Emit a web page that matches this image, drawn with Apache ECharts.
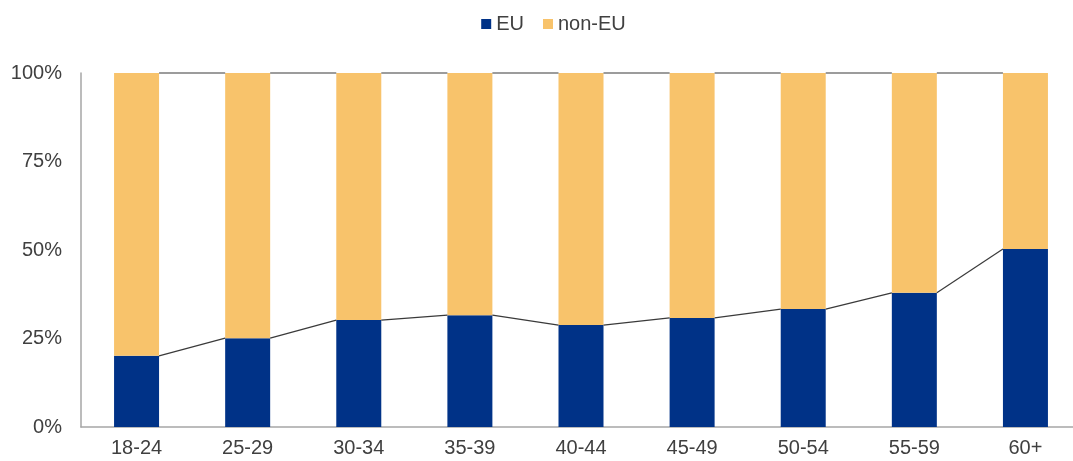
<!DOCTYPE html>
<html>
<head>
<meta charset="utf-8">
<script src="https://cdn.jsdelivr.net/npm/echarts@6/dist/echarts.min.js"></script>
<style>
  html, body { margin: 0; padding: 0; background: #fff; overflow: hidden; }
  /* the original plot area runs past the right edge of the picture */
  #chart { width: 1107px; height: 461px; }
</style>
</head>
<body>
<div id="chart"></div>
<script>
const ageGroups = ['18-24', '25-29', '30-34', '35-39', '40-44', '45-49', '50-54', '55-59', '60+']
const euShare = [20.1, 25.1, 30.2, 31.6, 28.8, 30.8, 33.3, 37.9, 50.3]
const nonEuShare = [79.9, 74.9, 69.8, 68.4, 71.2, 69.2, 66.7, 62.1, 49.7]
const yTicks = [0, 25, 50, 75, 100]

const BAR_WIDTH = 45
const textColor = '#404040'

// Excel-style series lines joining the tops of neighbouring stacked segments
function seriesLines(tops) {
  return {
    type: 'custom',
    silent: true,
    z: 5,
    data: tops.map((v, i) => [i, v, i + 1 < tops.length ? tops[i + 1] : null]),
    renderItem(params, api) {
      const next = api.value(2)
      if (next == null || isNaN(next)) return
      const i = api.value(0)
      const a = api.coord([i, api.value(1)])
      const b = api.coord([i + 1, next])
      return {
        type: 'line',
        shape: { x1: a[0] + BAR_WIDTH / 2, y1: a[1], x2: b[0] - BAR_WIDTH / 2, y2: b[1] },
        style: { stroke: '#3a3a3a', lineWidth: 1.2 },
      }
    },
  }
}

const totals = euShare.map((v, i) => v + nonEuShare[i])

const chart = echarts.init(document.getElementById('chart'))

chart.setOption({
  animation: false,
  textStyle: { fontFamily: 'Liberation Sans, Arial, sans-serif' },
  legend: {
    top: 9,
    left: 'center',
    itemWidth: 10,
    itemHeight: 10,
    itemGap: 19,
    icon: 'rect',
    textStyle: { fontSize: 20, color: textColor },
    data: ['EU', 'non-EU'],
  },
  grid: { left: 81, top: 73, width: 1000, height: 354 },
  xAxis: {
    type: 'category',
    data: ageGroups,
    axisLine: { lineStyle: { color: '#a6a6a6', width: 1.5 } },
    axisTick: { show: false },
    axisLabel: { fontSize: 20, color: textColor, margin: 11 },
  },
  yAxis: {
    type: 'value',
    min: yTicks[0],
    max: yTicks[yTicks.length - 1],
    interval: 25,
    splitLine: { show: false },
    axisLine: { show: true, lineStyle: { color: '#a6a6a6', width: 1.5 } },
    axisTick: { show: false },
    axisLabel: { fontSize: 20, color: textColor, margin: 19, formatter: '{value}%' },
  },
  series: [
    {
      name: 'EU',
      type: 'bar',
      stack: 'total',
      barWidth: BAR_WIDTH,
      itemStyle: { color: '#003287' },
      data: euShare,
    },
    {
      name: 'non-EU',
      type: 'bar',
      stack: 'total',
      barWidth: BAR_WIDTH,
      itemStyle: { color: '#F8C36B' },
      data: nonEuShare,
    },
    seriesLines(euShare),
    seriesLines(totals),
  ],
})
</script>
</body>
</html>
